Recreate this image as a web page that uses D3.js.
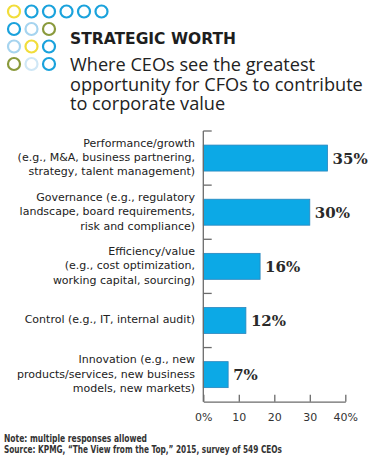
<!DOCTYPE html>
<html>
<head>
<meta charset="utf-8">
<script src="https://cdn.jsdelivr.net/npm/d3@7"></script>
<style>
  html, body { margin: 0; padding: 0; background: #fff; }
  svg { display: block; }
</style>
</head>
<body>
<div id="chart"></div>
<script>
// ---------- data ----------
const categories = [
  ["Performance/growth", "(e.g., M&A, business partnering,", "strategy, talent management)"],
  ["Governance (e.g., regulatory", "landscape, board requirements,", "risk and compliance)"],
  ["Efficiency/value", "(e.g., cost optimization,", "working capital, sourcing)"],
  ["Control (e.g., IT, internal audit)"],
  ["Innovation (e.g., new", "products/services, new business", "models, new markets)"]
];
const values = [35, 30, 16, 12, 7];
const tickValues = [0, 10, 20, 30, 40];
const tickLabels = ["0%", "10", "20", "30", "40%"];
const titleText = "STRATEGIC WORTH";
const subtitleLines = ["Where CEOs see the greatest", "opportunity for CFOs to contribute", "to corporate value"];
const noteLines = ["Note: multiple responses allowed", "Source: KPMG, \u201CThe View from the Top,\u201D 2015, survey of 549 CEOs"];
const dotRows = [
  ["Y", "B", "B", "B", "B", "B"],
  ["B", "L", "O"],
  ["L", "Y", "B"],
  ["O", "V", "B"]
];

// ---------- layout / style ----------
const W = 375, H = 464;
const dotColors = { Y: "#f1dd3a", B: "#1aa2dc", L: "#a6d4ef", O: "#8a9a3c", V: "#cfe7f6" };

const svg = d3.select("#chart").append("svg").attr("width", W).attr("height", H);

// decorative dots
dotRows.forEach((row, ri) => {
  svg.append("g").selectAll("circle").data(row).join("circle")
    .attr("cx", (d, i) => 14 + i * 17.5)
    .attr("cy", 11.5 + ri * 17.5)
    .attr("r", 6)
    .attr("fill", "none")
    .attr("stroke", d => dotColors[d])
    .attr("stroke-width", 2.2);
});

// title
function fitText(sel, target) {
  const len = sel.node().getComputedTextLength();
  const fs = parseFloat(sel.attr("font-size"));
  return fs * target / len;
}
const title = svg.append("text")
  .attr("x", 70).attr("y", 44.3)
  .attr("font-family", "'DejaVu Sans', sans-serif")
  .attr("font-weight", "bold")
  .attr("font-size", 16)
  .attr("fill", "#1e1e1e")
  .text(titleText);
title.attr("font-size", fitText(title, 166));

const subG = svg.append("g");
const sub = subG.selectAll("text").data(subtitleLines).join("text")
  .attr("x", 70)
  .attr("y", (d, i) => 71 + i * 19.5)
  .attr("font-family", "'Open Sans', sans-serif")
  .attr("font-size", 19)
  .attr("fill", "#222")
  .text(d => d);
const subFs = fitText(d3.select(sub.nodes()[1]), 293);
sub.attr("font-size", subFs);

// scales
const x = d3.scaleLinear().domain([0, 40]).range([203.3, 345.3]);
const y = d3.scaleBand().domain(d3.range(categories.length)).range([131, 401.7])
  .paddingInner(0.52).paddingOuter(0.26);

// bars
svg.append("g").selectAll("rect").data(values).join("rect")
  .attr("x", x(0))
  .attr("y", (d, i) => y(i))
  .attr("width", d => x(d) - x(0))
  .attr("height", y.bandwidth())
  .attr("fill", "#0ca9e6")
  .attr("stroke", "#2a86bd")
  .attr("stroke-width", 0.8);

// value labels
svg.append("g").selectAll("text").data(values).join("text")
  .attr("x", d => x(d) + 5)
  .attr("y", (d, i) => y(i) + y.bandwidth() / 2 + 5.5)
  .attr("font-family", "'DejaVu Serif', serif")
  .attr("font-weight", "bold")
  .attr("font-size", 15)
  .attr("fill", "#2a2a2a")
  .text(d => d + "%");

// category labels
const lineH = 14.3;
const catG = svg.append("g").selectAll("text").data(categories).join("text")
  .attr("text-anchor", "end")
  .attr("font-family", "'DejaVu Sans', sans-serif")
  .attr("font-size", 11)
  .attr("fill", "#222");
catG.each(function (lines, i) {
  const c = y(i) + y.bandwidth() / 2 + 3;
  const n = lines.length;
  d3.select(this).selectAll("tspan").data(lines).join("tspan")
    .attr("x", 195)
    .attr("y", (d, j) => c + (j - (n - 1) / 2) * lineH)
    .text(d => d);
});

// vertical axis with band separators
const yr = y.range();
const axisColor = "#6b6b6b";
svg.append("line")
  .attr("x1", x(0)).attr("x2", x(0))
  .attr("y1", yr[0]).attr("y2", yr[1])
  .attr("stroke", axisColor).attr("stroke-width", 1.3);
svg.append("g").selectAll("line").data(d3.range(categories.length)).join("line")
  .attr("x1", x(0)).attr("x2", x(0) + 8.4)
  .attr("y1", (d, i) => yr[0] + i * y.step())
  .attr("y2", (d, i) => yr[0] + i * y.step())
  .attr("stroke", axisColor).attr("stroke-width", 1.3);

// x axis
const xAxis = d3.axisBottom(x)
  .tickValues(tickValues)
  .tickFormat((d, i) => tickLabels[i])
  .tickSizeInner(-7)
  .tickSizeOuter(0)
  .tickPadding(12);
const gx = svg.append("g").attr("transform", `translate(0,${yr[1]})`).call(xAxis);
gx.select(".domain").attr("stroke", axisColor).attr("stroke-width", 1.3);
gx.selectAll(".tick line").attr("stroke", axisColor).attr("stroke-width", 1.3);
gx.selectAll(".tick text")
  .attr("font-family", "'DejaVu Sans', sans-serif")
  .attr("font-size", 11)
  .attr("fill", "#333");

// footnotes
const noteTargets = [143, 278];
svg.append("g").selectAll("text").data(noteLines).join("text")
  .attr("x", 4)
  .attr("y", (d, i) => 442 + i * 11.2)
  .attr("font-family", "'Liberation Sans Narrow', 'DejaVu Sans Condensed', sans-serif")
  .attr("font-weight", "bold")
  .attr("font-size", 10)
  .attr("fill", "#333")
  .attr("textLength", (d, i) => noteTargets[i])
  .attr("lengthAdjust", "spacingAndGlyphs")
  .text(d => d);
</script>
</body>
</html>
